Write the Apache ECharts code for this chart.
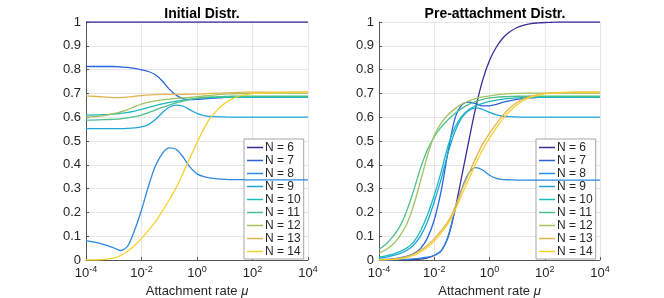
<!DOCTYPE html>
<html>
<head>
<meta charset="utf-8">
<script src="https://cdn.jsdelivr.net/npm/echarts@6/dist/echarts.min.js"></script>
<style>
html,body{margin:0;padding:0;background:#fff;}
#chart{width:664px;height:298px;}
</style>
</head>
<body>
<div id="chart"></div>
<script>
// x values are log10 of attachment rate mu (-4 .. 4, step 0.25)
const log10Mu = [-4,-3.75,-3.5,-3.25,-3,-2.75,-2.5,-2.25,-2,-1.75,-1.5,-1.25,-1,-0.75,-0.5,-0.25,0,0.25,0.5,0.75,1,1.25,1.5,1.75,2,2.25,2.5,2.75,3,3.25,3.5,3.75,4];
const seriesNames = ['N = 6','N = 7','N = 8','N = 9','N = 10','N = 11','N = 12','N = 13','N = 14'];
const panelTitles = ['Initial Distr.', 'Pre-attachment Distr.'];

// Initial Distr.
const init_N6  = [1,1,1,1,1,1,1,1,1,1,1,1,1,1,1,1,1,1,1,1,1,1,1,1,1,1,1,1,1,1,1,1,1];
const init_N7  = [0.813,0.813,0.813,0.813,0.813,0.811,0.809,0.805,0.799,0.792,0.778,0.752,0.718,0.692,0.678,0.674,0.675,0.677,0.679,0.681,0.683,0.684,0.684,0.685,0.685,0.685,0.685,0.685,0.685,0.685,0.685,0.685,0.685];
const init_N8  = [0.080,0.076,0.070,0.061,0.051,0.040,0.058,0.125,0.210,0.310,0.395,0.447,0.471,0.465,0.432,0.390,0.362,0.350,0.344,0.341,0.339,0.338,0.338,0.337,0.337,0.337,0.337,0.337,0.337,0.337,0.337,0.337,0.337];
const init_N9  = [0.552,0.552,0.552,0.552,0.552,0.552,0.553,0.555,0.559,0.569,0.590,0.619,0.642,0.651,0.646,0.631,0.616,0.607,0.603,0.602,0.601,0.600,0.600,0.600,0.600,0.600,0.600,0.600,0.600,0.600,0.600,0.600,0.600];
const init_N10 = [0.609,0.609,0.610,0.611,0.613,0.616,0.620,0.626,0.633,0.641,0.649,0.656,0.662,0.667,0.672,0.676,0.679,0.681,0.682,0.683,0.683,0.683,0.683,0.683,0.683,0.683,0.683,0.683,0.683,0.683,0.683,0.683,0.683];
const init_N11 = [0.588,0.588,0.589,0.590,0.591,0.593,0.597,0.602,0.609,0.619,0.630,0.641,0.651,0.660,0.668,0.674,0.679,0.683,0.685,0.686,0.687,0.688,0.688,0.688,0.688,0.688,0.688,0.688,0.688,0.688,0.688,0.688,0.688];
const init_N12 = [0.600,0.602,0.605,0.609,0.615,0.622,0.632,0.644,0.655,0.663,0.669,0.673,0.676,0.679,0.681,0.683,0.686,0.689,0.692,0.695,0.697,0.698,0.699,0.700,0.700,0.701,0.701,0.701,0.701,0.701,0.701,0.701,0.701];
const init_N13 = [0.690,0.688,0.686,0.684,0.682,0.682,0.684,0.688,0.691,0.693,0.695,0.696,0.696,0.696,0.696,0.697,0.697,0.698,0.700,0.701,0.702,0.703,0.704,0.705,0.705,0.705,0.705,0.705,0.705,0.705,0.705,0.705,0.705];
const init_N14 = [0.000,0.000,0.001,0.004,0.008,0.019,0.037,0.061,0.091,0.125,0.160,0.205,0.252,0.304,0.366,0.430,0.493,0.552,0.600,0.633,0.658,0.676,0.688,0.695,0.699,0.701,0.702,0.703,0.703,0.704,0.704,0.704,0.704];

// Pre-attachment Distr.
const pre_N6  = [0.000,0.000,0.000,0.001,0.001,0.002,0.004,0.009,0.019,0.038,0.095,0.210,0.355,0.500,0.640,0.755,0.838,0.895,0.935,0.960,0.977,0.987,0.993,0.996,0.998,0.999,1.000,1.000,1.000,1.000,1.000,1.000,1.000];
const pre_N7  = [0.002,0.003,0.005,0.009,0.015,0.027,0.048,0.092,0.168,0.290,0.455,0.595,0.652,0.663,0.657,0.648,0.648,0.654,0.663,0.670,0.675,0.679,0.681,0.683,0.684,0.685,0.685,0.685,0.685,0.685,0.685,0.685,0.685];
const pre_N8  = [0.000,0.000,0.001,0.002,0.003,0.005,0.008,0.012,0.020,0.038,0.100,0.210,0.300,0.365,0.388,0.378,0.356,0.343,0.338,0.337,0.336,0.336,0.336,0.336,0.336,0.336,0.336,0.336,0.336,0.336,0.336,0.336,0.336];
const pre_N9  = [0.008,0.012,0.018,0.027,0.040,0.062,0.100,0.160,0.245,0.340,0.450,0.540,0.598,0.628,0.639,0.633,0.620,0.610,0.604,0.602,0.601,0.600,0.600,0.600,0.600,0.600,0.600,0.600,0.600,0.600,0.600,0.600,0.600];
const pre_N10 = [0.012,0.017,0.025,0.035,0.050,0.075,0.122,0.188,0.272,0.370,0.480,0.558,0.604,0.632,0.648,0.658,0.666,0.672,0.676,0.679,0.681,0.682,0.683,0.683,0.683,0.683,0.683,0.683,0.683,0.683,0.683,0.683,0.683];
const pre_N11 = [0.045,0.066,0.098,0.140,0.205,0.290,0.385,0.462,0.518,0.558,0.589,0.616,0.637,0.654,0.666,0.675,0.681,0.684,0.686,0.687,0.688,0.688,0.688,0.688,0.688,0.688,0.688,0.688,0.688,0.688,0.688,0.688,0.688];
const pre_N12 = [0.028,0.043,0.065,0.100,0.150,0.228,0.330,0.437,0.522,0.575,0.610,0.636,0.655,0.668,0.678,0.685,0.690,0.694,0.697,0.699,0.700,0.701,0.701,0.701,0.701,0.701,0.701,0.701,0.701,0.701,0.701,0.701,0.701];
const pre_N13 = [0.001,0.002,0.004,0.008,0.014,0.025,0.041,0.062,0.090,0.123,0.162,0.222,0.295,0.362,0.428,0.487,0.532,0.573,0.610,0.640,0.662,0.678,0.688,0.695,0.700,0.702,0.703,0.704,0.705,0.705,0.705,0.705,0.705];
const pre_N14 = [0.000,0.001,0.002,0.005,0.010,0.019,0.034,0.054,0.080,0.113,0.153,0.208,0.275,0.340,0.404,0.463,0.512,0.556,0.595,0.627,0.652,0.671,0.684,0.692,0.698,0.701,0.703,0.704,0.705,0.705,0.705,0.705,0.705];

const initAll = [init_N6,init_N7,init_N8,init_N9,init_N10,init_N11,init_N12,init_N13,init_N14];
const preAll  = [pre_N6,pre_N7,pre_N8,pre_N9,pre_N10,pre_N11,pre_N12,pre_N13,pre_N14];
const colors = ['#3b2c98','#2a63dc','#2d88e0','#1ea6da','#1fb9bd','#4cc08b','#a0c45f','#e2b550','#f8d12f'];

const FONT = '"Liberation Sans", Arial, Helvetica, sans-serif';
const grids = [
  {left: 86, top: 22, width: 222, height: 238, outerBoundsMode: 'none', containLabel: false},
  {left: 379, top: 22, width: 221, height: 238, outerBoundsMode: 'none', containLabel: false}
];

function xAxis(gi) {
  return {
    type: 'value', gridIndex: gi, min: -4, max: 4, interval: 2,
    name: 'Attachment rate {i|μ}', nameLocation: 'middle', nameGap: 23,
    nameTextStyle: {fontFamily: FONT, fontSize: 13, color: '#262626',
      rich: {i: {fontFamily: FONT, fontSize: 13, fontStyle: 'italic', color: '#262626'}}},
    axisLine: {show: true, onZero: false, lineStyle: {color: '#555', width: 1}},
    axisTick: {show: true, inside: true, length: 3, lineStyle: {color: '#555'}},
    splitLine: {show: true, lineStyle: {color: '#e6e6e6', width: 1}},
    axisLabel: {
      margin: 5,
      formatter: v => '{b|10}{s|' + v + '}',
      rich: {
        b: {fontFamily: FONT, fontSize: 13, color: '#262626'},
        s: {fontFamily: FONT, fontSize: 9, color: '#262626', padding: [0,0,8,0]}
      }
    }
  };
}
function yAxis(gi) {
  return {
    type: 'value', gridIndex: gi, min: 0, max: 1, interval: 0.1,
    axisLine: {show: true, onZero: false, lineStyle: {color: '#555', width: 1}},
    axisTick: {show: true, inside: true, length: 3, lineStyle: {color: '#555'}},
    splitLine: {show: true, lineStyle: {color: '#e6e6e6', width: 1}},
    axisLabel: {margin: 5, fontFamily: FONT, fontSize: 13, color: '#262626',
      formatter: v => String(Math.round(v * 10) / 10)}
  };
}

const series = [];
[initAll, preAll].forEach((all, gi) => {
  all.forEach((ys, k) => {
    series.push({
      name: seriesNames[k], type: 'line', xAxisIndex: gi, yAxisIndex: gi,
      data: log10Mu.map((x, i) => [x, ys[i]]),
      symbol: 'none', showSymbol: false, smooth: 0.3,
      lineStyle: {width: 1.3, color: colors[k]}, itemStyle: {color: colors[k]},
      z: 2 + k
    });
  });
});

function legend(left) {
  return {
    left: left, top: 139, orient: 'vertical',
    data: seriesNames,
    icon: 'rect',
    itemWidth: 16, itemHeight: 1.5, itemGap: 0,
    padding: [2, 3, 1, 3],
    borderColor: '#a6a6a6', borderWidth: 1, backgroundColor: '#fff',
    textStyle: {fontFamily: FONT, fontSize: 12, lineHeight: 13, color: '#262626', padding: [0,0,0,-3]},
    selectedMode: false
  };
}

const chart = echarts.init(document.getElementById('chart'), null, {renderer: 'canvas'});
chart.setOption({
  animation: false,
  color: colors,
  title: [
    {text: panelTitles[0], left: 197, top: 2, textAlign: 'center',
     textStyle: {fontFamily: FONT, fontSize: 14, fontWeight: 'bold', color: '#000'}},
    {text: panelTitles[1], left: 490, top: 2, textAlign: 'center',
     textStyle: {fontFamily: FONT, fontSize: 14, fontWeight: 'bold', color: '#000'}}
  ],
  grid: grids,
  xAxis: [xAxis(0), xAxis(1)],
  yAxis: [yAxis(0), yAxis(1)],
  legend: [legend(244), legend(536)],
  series: series
});
</script>
</body>
</html>
